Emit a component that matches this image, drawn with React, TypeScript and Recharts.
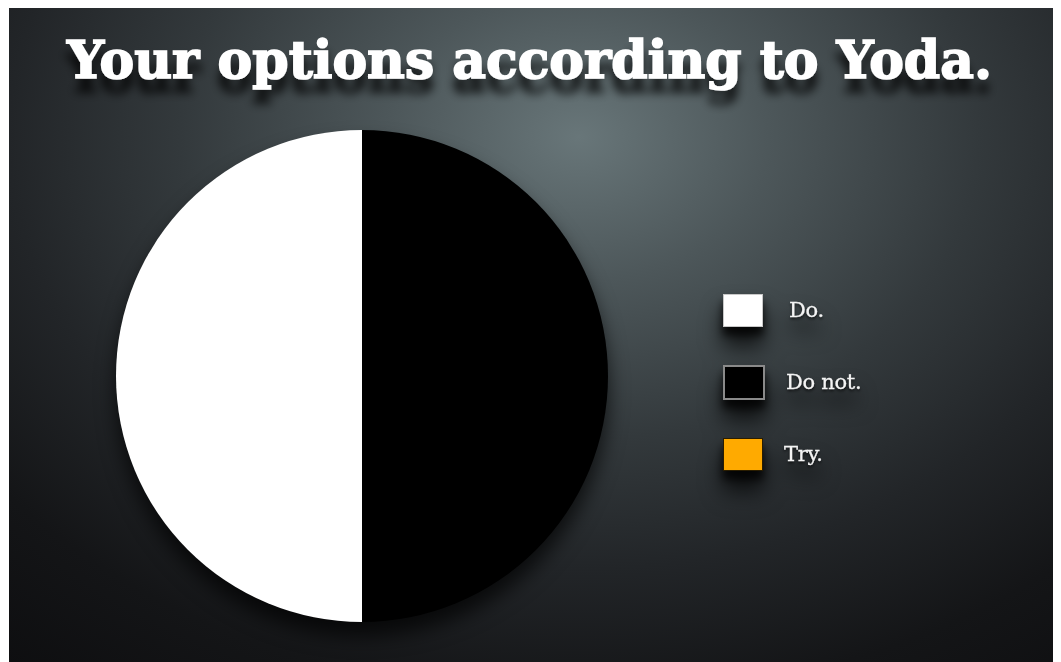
import { PieChart, Pie, Cell, Legend } from "recharts"

const labels = ["Do.", "Do not.", "Try."]
const shares = [50, 50, 0]
const fills = ["#ffffff", "#000000", "#ffaa00"]
const edges = ["#c8c8c8", "#8a8a8a", "#2a1d00"]

const data = labels.map((name, i) => ({ name, value: shares[i] }))

function YodaLegend({ payload }: any) {
  // keep the original order, recharts sorts legend items by value
  const items = [...(payload || [])].sort(
    (a: any, b: any) => labels.indexOf(a.value) - labels.indexOf(b.value)
  )
  return (
    <div style={{ display: "flex", flexDirection: "column" }}>
      {items.map((item: any) => {
        const i = labels.indexOf(item.value)
        return (
          <div
            key={item.value}
            style={{ display: "flex", alignItems: "center", height: 34, marginBottom: 38 }}
          >
            <div
              style={{
                width: 38,
                height: 31,
                background: fills[i],
                border: `${i === 1 ? 2 : 1.5}px solid ${edges[i]}`,
                boxShadow: "0 8px 8px rgba(0,0,0,0.75)",
              }}
            />
            <span
              style={{
                marginLeft: i === 0 ? 26 : 21,
                fontFamily: "'DejaVu Serif', serif",
                fontSize: 21,
                color: "#f4f4f4",
                letterSpacing: -0.3,
                WebkitTextStroke: "0.3px #f4f4f4",
                textShadow: "0 2px 3px rgba(0,0,0,0.8)",
              }}
            >
              {item.value}
            </span>
          </div>
        )
      })}
    </div>
  )
}

function App() {
  return (
    <div
      style={{
        position: "relative",
        width: 1052,
        height: 655,
        marginLeft: 1,
        marginTop: -1,
        background:
          "radial-gradient(ellipse 950px 720px at 570px 130px, #687679 0%, #4d575a 20%, #33393c 42%, #222528 60%, #141517 78%, #0c0c0e 100%)",
        overflow: "hidden",
      }}
    >
      <svg
        width={1052}
        height={120}
        style={{ position: "absolute", left: 0, top: 0 }}
      >
        <defs>
          <filter id="titleShadow" x="-10%" y="-50%" width="120%" height="220%">
            <feDropShadow dx="0" dy="14" stdDeviation="5" floodColor="#000" floodOpacity="0.75" />
          </filter>
        </defs>
        <text
          x={58}
          y={71}
          textLength={925}
          lengthAdjust="spacingAndGlyphs"
          fill="#ffffff"
          stroke="#ffffff"
          strokeWidth={1.6}
          fontFamily="'DejaVu Serif', serif"
          fontWeight="bold"
          fontSize={52}
          filter="url(#titleShadow)"
        >
          Your options according to Yoda.
        </text>
      </svg>
      <div style={{ position: "absolute", left: 0, top: 0, filter: "drop-shadow(0 14px 10px rgba(0,0,0,0.7))" }}>
        <PieChart width={1052} height={655} margin={{ top: 0, right: 0, bottom: 0, left: 0 }}>
          <Pie
            data={data}
            dataKey="value"
            nameKey="name"
            cx={353}
            cy={369}
            outerRadius={246}
            startAngle={90}
            endAngle={450}
            stroke="none"
            isAnimationActive={false}
          >
            {data.map((d, i) => (
              <Cell key={d.name} fill={fills[i]} />
            ))}
          </Pie>
          <Legend
            layout="vertical"
            align="right"
            verticalAlign="top"
            content={<YodaLegend />}
            wrapperStyle={{ left: 714, top: 286, right: "auto", width: 220 }}
          />
        </PieChart>
      </div>
    </div>
  )
}

export default App
